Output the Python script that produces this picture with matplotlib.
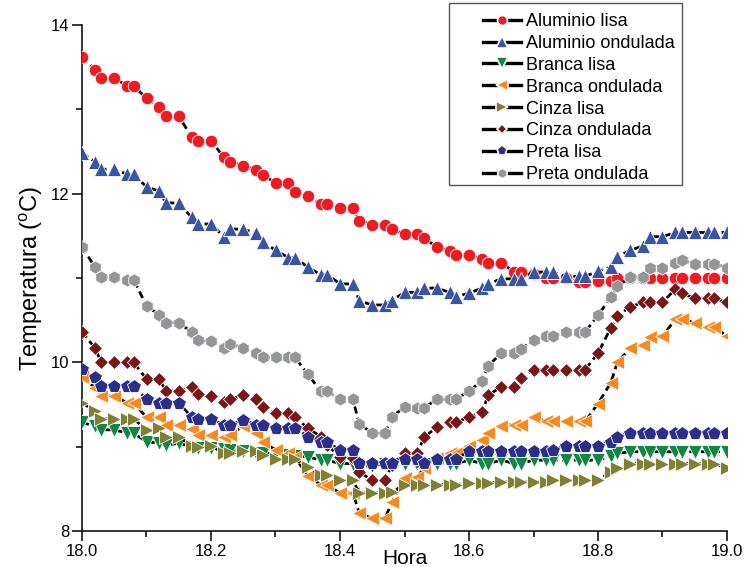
import matplotlib
matplotlib.use("Agg")
import matplotlib.pyplot as plt
from matplotlib.lines import Line2D
from matplotlib.patches import Rectangle
from matplotlib.ticker import MultipleLocator

plt.rcParams['font.family'] = ['Liberation Sans', 'DejaVu Sans']
plt.rcParams['mathtext.fontset'] = 'custom'
plt.rcParams['mathtext.rm'] = 'Liberation Sans'

# Hora (horas decimais, um ponto por minuto)
hora = [18.00, 18.02, 18.03, 18.05, 18.07, 18.08, 18.10, 18.12, 18.13, 18.15,
        18.17, 18.18, 18.20, 18.22, 18.23, 18.25, 18.27, 18.28, 18.30, 18.32,
        18.33, 18.35, 18.37, 18.38, 18.40, 18.42, 18.43, 18.45, 18.47, 18.48,
        18.50, 18.52, 18.53, 18.55, 18.57, 18.58, 18.60, 18.62, 18.63, 18.65,
        18.67, 18.68, 18.70, 18.72, 18.73, 18.75, 18.77, 18.78, 18.80, 18.82,
        18.83, 18.85, 18.87, 18.88, 18.90, 18.92, 18.93, 18.95, 18.97, 18.98,
        19.00]

aluminio_lisa = [13.62, 13.47, 13.37, 13.37, 13.28, 13.28, 13.13, 13.03, 12.92, 12.92,
                 12.67, 12.63, 12.63, 12.43, 12.38, 12.33, 12.28, 12.22, 12.13, 12.13,
                 12.02, 11.97, 11.88, 11.88, 11.83, 11.83, 11.68, 11.63, 11.63, 11.58,
                 11.52, 11.52, 11.47, 11.37, 11.32, 11.27, 11.27, 11.23, 11.18, 11.18,
                 11.07, 11.07, 11.05, 11.00, 11.00, 11.00, 10.95, 10.95, 10.97, 10.97,
                 11.00, 11.00, 11.00, 11.00, 11.00, 11.00, 11.00, 11.00, 11.00, 11.00,
                 11.00]
aluminio_ondulada = [12.48, 12.38, 12.29, 12.29, 12.23, 12.23, 12.08, 12.03, 11.89, 11.89,
                     11.72, 11.64, 11.64, 11.49, 11.58, 11.58, 11.53, 11.43, 11.33, 11.24,
                     11.24, 11.13, 11.04, 11.04, 10.93, 10.93, 10.73, 10.68, 10.68, 10.73,
                     10.83, 10.83, 10.88, 10.88, 10.83, 10.78, 10.82, 10.88, 10.93, 10.99,
                     10.99, 10.99, 11.07, 11.07, 11.07, 11.02, 11.02, 11.02, 11.08, 11.13,
                     11.25, 11.33, 11.38, 11.49, 11.49, 11.54, 11.54, 11.54, 11.54, 11.54,
                     11.54]
branca_lisa = [9.29, 9.24, 9.20, 9.20, 9.16, 9.16, 9.06, 9.04, 9.02, 9.04,
               9.00, 8.98, 8.98, 8.97, 8.96, 8.95, 8.93, 8.92, 8.92, 8.90,
               8.89, 8.88, 8.84, 8.84, 8.80, 8.80, 8.77, 8.77, 8.80, 8.80,
               8.80, 8.80, 8.80, 8.80, 8.80, 8.80, 8.84, 8.80, 8.80, 8.84,
               8.80, 8.80, 8.84, 8.84, 8.84, 8.84, 8.84, 8.84, 8.84, 8.89,
               8.92, 8.94, 8.94, 8.94, 8.94, 8.94, 8.94, 8.94, 8.94, 8.94,
               8.94]
branca_ondulada = [9.83, 9.70, 9.60, 9.60, 9.52, 9.52, 9.35, 9.35, 9.26, 9.26,
                   9.21, 9.14, 9.14, 9.12, 9.14, 9.25, 9.16, 9.06, 8.96, 8.92,
                   8.88, 8.65, 8.55, 8.55, 8.45, 8.45, 8.21, 8.15, 8.15, 8.34,
                   8.63, 8.64, 8.75, 8.87, 8.92, 8.92, 9.01, 9.08, 9.16, 9.25,
                   9.26, 9.26, 9.35, 9.30, 9.30, 9.30, 9.30, 9.30, 9.51, 9.76,
                   10.00, 10.17, 10.21, 10.30, 10.31, 10.51, 10.51, 10.47, 10.42, 10.42,
                   10.31]
cinza_lisa = [9.52, 9.42, 9.33, 9.33, 9.33, 9.33, 9.20, 9.22, 9.12, 9.12,
              9.01, 9.00, 9.01, 8.92, 8.92, 8.95, 8.95, 8.90, 8.85, 8.85,
              8.85, 8.76, 8.66, 8.66, 8.60, 8.60, 8.45, 8.45, 8.45, 8.46,
              8.55, 8.55, 8.55, 8.55, 8.55, 8.55, 8.57, 8.57, 8.57, 8.58,
              8.58, 8.58, 8.58, 8.58, 8.60, 8.60, 8.60, 8.60, 8.60, 8.70,
              8.75, 8.80, 8.80, 8.80, 8.80, 8.80, 8.80, 8.80, 8.80, 8.80,
              8.75]
cinza_ondulada = [10.36, 10.17, 10.00, 10.00, 10.00, 10.00, 9.80, 9.80, 9.66, 9.66,
                  9.71, 9.62, 9.60, 9.53, 9.56, 9.61, 9.56, 9.47, 9.40, 9.40,
                  9.35, 9.22, 9.12, 9.02, 8.88, 8.87, 8.70, 8.60, 8.60, 8.78,
                  8.92, 8.92, 9.11, 9.23, 9.29, 9.29, 9.35, 9.41, 9.61, 9.71,
                  9.71, 9.81, 9.91, 9.91, 9.91, 9.91, 9.91, 9.91, 10.11, 10.41,
                  10.55, 10.66, 10.71, 10.71, 10.71, 10.87, 10.82, 10.76, 10.76, 10.76,
                  10.71]
preta_lisa = [9.92, 9.83, 9.72, 9.72, 9.72, 9.72, 9.56, 9.52, 9.52, 9.52,
              9.35, 9.33, 9.33, 9.26, 9.26, 9.32, 9.26, 9.26, 9.22, 9.22,
              9.22, 9.12, 9.06, 9.06, 8.96, 8.96, 8.81, 8.81, 8.81, 8.81,
              8.85, 8.85, 8.81, 8.85, 8.85, 8.85, 8.95, 8.95, 8.95, 8.95,
              8.95, 8.95, 8.95, 8.95, 8.96, 9.01, 9.01, 9.01, 9.01, 9.06,
              9.12, 9.16, 9.16, 9.16, 9.16, 9.16, 9.16, 9.16, 9.16, 9.16,
              9.16]
preta_ondulada = [11.37, 11.13, 11.01, 11.01, 10.98, 10.98, 10.67, 10.56, 10.47, 10.47,
                  10.36, 10.26, 10.25, 10.17, 10.22, 10.17, 10.11, 10.06, 10.06, 10.06,
                  10.06, 9.86, 9.66, 9.66, 9.56, 9.56, 9.27, 9.16, 9.16, 9.35,
                  9.47, 9.46, 9.46, 9.56, 9.56, 9.56, 9.66, 9.78, 9.96, 10.11,
                  10.11, 10.16, 10.26, 10.31, 10.31, 10.36, 10.36, 10.36, 10.56, 10.77,
                  10.90, 11.01, 11.01, 11.12, 11.12, 11.18, 11.21, 11.17, 11.17, 11.17,
                  11.12]

series = [
    ("Aluminio lisa", aluminio_lisa, "o", "#ED1C24", 9),
    ("Aluminio ondulada", aluminio_ondulada, "^", "#3A54A4", 10),
    ("Branca lisa", branca_lisa, "v", "#108743", 10),
    ("Branca ondulada", branca_ondulada, "<", "#F7891F", 10),
    ("Cinza lisa", cinza_lisa, ">", "#808034", 10),
    ("Cinza ondulada", cinza_ondulada, "D", "#7A1518", 6.8),
    ("Preta lisa", preta_lisa, "p", "#2B2F8A", 10),
    ("Preta ondulada", preta_ondulada, "h", "#939598", 9.5),
]

fig = plt.figure(figsize=(7.48, 5.67), dpi=100)
ax = fig.add_axes([82 / 748, 1 - 531 / 567, 645 / 748, 506 / 567])

handles = []
for k, (nome, y, mk, cor, ms) in enumerate(series):
    ax.plot(hora, y, color='k', lw=2.0, ls=(0, (2.6, 1.6)), zorder=2 + 2 * k)
    ax.plot(hora, y, ls='none', marker=mk, ms=ms, mfc=cor, mec='white',
            mew=0.6, zorder=3 + 2 * k)
    handles.append(Line2D([], [], color='k', lw=2.4, marker=mk, ms=ms * 0.8,
                          mfc=cor, mec='white', mew=1.2, label=nome))

ax.set_xlim(18.0, 19.0)
ax.set_ylim(8, 14)
ax.xaxis.set_major_locator(MultipleLocator(0.2))
ax.xaxis.set_minor_locator(MultipleLocator(0.1))
ax.yaxis.set_major_locator(MultipleLocator(2))
ax.yaxis.set_minor_locator(MultipleLocator(1))
ax.xaxis.set_major_formatter(plt.FormatStrFormatter('%.1f'))

for s in ['top', 'right']:
    ax.spines[s].set_visible(False)
for s in ['left', 'bottom']:
    ax.spines[s].set_linewidth(1.1)

ax.tick_params(which='major', direction='out', length=7, width=1.1, labelsize=12, pad=2)
ax.tick_params(which='minor', direction='out', length=4, width=1.1)

ax.set_xlabel('Hora', fontsize=15)
ax.xaxis.set_label_coords(0.5, -0.035)
ax.set_ylabel('Temperatura ($^\\mathrm{o}$C)', fontsize=17, labelpad=4)

leg = fig.legend(handles=handles, loc='upper left', bbox_to_anchor=(483 / 748, 1 - 13 / 567),
                 frameon=False, fontsize=13, handlelength=2.1, handletextpad=0.3,
                 labelspacing=0.27, borderpad=0, borderaxespad=0, numpoints=1)
fig.patches.append(Rectangle((449 / 748, 1 - 185 / 567), 233 / 748, 182 / 567,
                             transform=fig.transFigure, fill=False, ec='#555555', lw=1.0))

plt.savefig("out.png", dpi=100)
